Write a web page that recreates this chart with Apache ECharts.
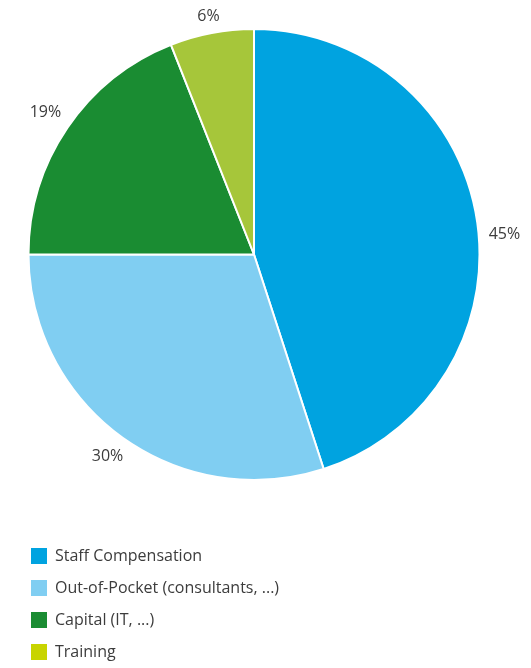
<!DOCTYPE html>
<html>
<head>
<meta charset="utf-8">
<script src="https://cdn.jsdelivr.net/npm/echarts@6/dist/echarts.min.js"></script>
<style>
  html, body { margin: 0; padding: 0; background: #fff; }
  #chart { width: 531px; height: 668px; }
</style>
</head>
<body>
<div id="chart"></div>
<script>
// Budget breakdown by cost type (percent of total)
const categories = ['Staff Compensation', 'Out-of-Pocket (consultants, ...)', 'Capital (IT, ...)', 'Training'];
const shares = [45, 30, 19, 6];
const sliceColors = ['#00a3e0', '#80cef2', '#1a8c32', '#a6c63a'];
const legendColors = ['#00a3e0', '#80cef2', '#1a8c32', '#c8d400'];

const CENTER = [254, 254.5];
const RADIUS = 225.5;
const LABEL_GAP = 12;
const LABEL_HALF_HEIGHT = 3;

// mid angle of each slice, clockwise from 12 o'clock (radians)
const total = shares.reduce((a, b) => a + b, 0);
const midAngles = [];
shares.reduce((acc, v) => {
  midAngles.push((acc + v / 2) / total * Math.PI * 2);
  return acc + v;
}, 0);

const chart = echarts.init(document.getElementById('chart'));
chart.setOption({
  animation: false,
  textStyle: { fontFamily: 'Open Sans' },
  legend: {
    orient: 'vertical',
    left: 31,
    top: 548,
    height: 200,
    padding: 0,
    itemWidth: 16,
    itemHeight: 16,
    itemGap: 16,
    icon: 'rect',
    textStyle: { fontSize: 16, color: '#3c3c3c', padding: [0, 0, 0, 3] },
    data: categories.map((name, i) => ({
      name,
      itemStyle: { color: legendColors[i], borderWidth: 0 }
    }))
  },
  series: [{
    type: 'pie',
    center: CENTER,
    radius: [0, RADIUS],
    startAngle: 90,
    clockwise: true,
    data: categories.map((name, i) => ({ name, value: shares[i], itemStyle: { color: sliceColors[i] } })),
    itemStyle: { borderColor: '#fff', borderWidth: 2 },
    label: {
      show: true,
      position: 'outside',
      formatter: p => p.value + '%',
      fontSize: 16,
      color: '#3c3c3c',
      overflow: 'none'
    },
    labelLine: { show: false },
    // centre each percentage just outside its slice, along the slice's mid angle
    labelLayout: params => {
      const a = midAngles[params.dataIndex];
      const dx = Math.sin(a), dy = -Math.cos(a);
      const w = params.labelRect.width;
      const d = RADIUS + LABEL_GAP + Math.abs(dx) * w / 2 + Math.abs(dy) * LABEL_HALF_HEIGHT;
      return {
        x: CENTER[0] + dx * d,
        y: CENTER[1] + dy * d + (params.dataIndex === 0 ? 20 : 0),
        align: 'center',
        verticalAlign: 'middle'
      };
    },
    emphasis: { disabled: true }
  }]
});
</script>
</body>
</html>
